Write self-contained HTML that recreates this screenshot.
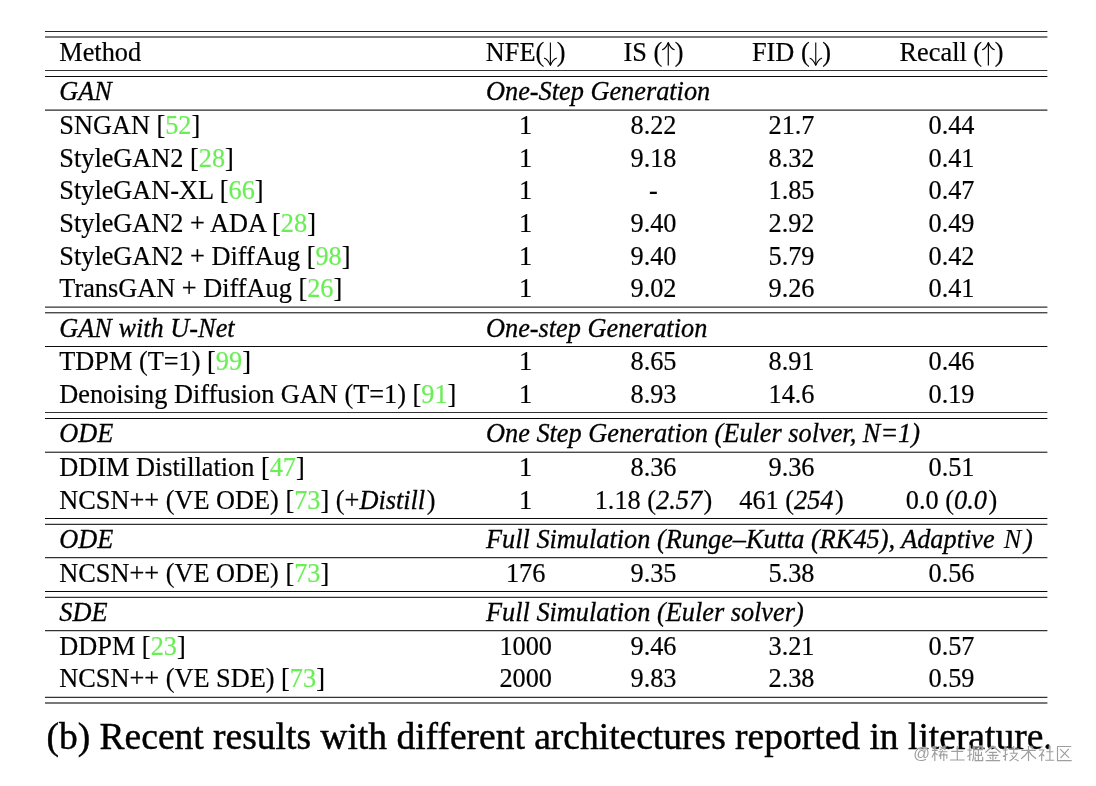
<!DOCTYPE html>
<html><head><meta charset="utf-8"><style>
html,body{margin:0;padding:0;background:#fff;}
body{width:1096px;height:786px;position:relative;overflow:hidden;font-family:"Liberation Serif",serif;color:#000;}
#w{position:absolute;left:0;top:0;width:1096px;height:786px;will-change:transform;}
.t{position:absolute;line-height:0;white-space:pre;font-size:26.3px;-webkit-text-stroke:0.2px currentColor;}
.t{transform:scaleY(1);transform-origin:0 8.88px;}
.t.c{transform:translateX(-50%) scaleY(1);}
.ar{vertical-align:baseline;margin:-18.3px 0 -6.7px 0;}
.g{color:rgb(106,238,86);}
i{font-style:italic;-webkit-text-stroke:0.3px currentColor;}
.ic{margin-right:1.5px;}
.mn{font-style:italic;margin:0 0.1em 0 0.1em;-webkit-text-stroke:0.1px #000;}
.cap{position:absolute;line-height:0;white-space:pre;font-size:37.5px;-webkit-text-stroke:0.45px #000;}
svg.ln{position:absolute;left:0;top:0;}
</style></head><body><div id="w">

<div class="t" style="left:59.3px;top:52.62px">Method</div>
<div class="t c" style="left:525.7px;top:52.62px">NFE(<svg class="ar" width="12.6" height="25" viewBox="0 0 12.6 25"><path d="M6.3 0.6V23" stroke="#000" stroke-width="1.1" fill="none"/><path d="M0.3 16.2Q3.8 17.2 6.3 23.4Q8.8 17.2 12.3 16.2" stroke="#000" stroke-width="1.15" fill="none" stroke-linecap="round" stroke-linejoin="round"/></svg>)</div>
<div class="t c" style="left:653.5px;top:52.62px">IS (<svg class="ar" width="12.6" height="25" viewBox="0 0 12.6 25"><path d="M6.3 1.0V23.6" stroke="#000" stroke-width="1.2" fill="none"/><path d="M0.3 7.7Q3.8 6.7 6.3 0.5Q8.8 6.7 12.3 7.7" stroke="#000" stroke-width="1.15" fill="none" stroke-linecap="round" stroke-linejoin="round"/></svg>)</div>
<div class="t c" style="left:791.5px;top:52.62px">FID (<svg class="ar" width="12.6" height="25" viewBox="0 0 12.6 25"><path d="M6.3 0.6V23" stroke="#000" stroke-width="1.1" fill="none"/><path d="M0.3 16.2Q3.8 17.2 6.3 23.4Q8.8 17.2 12.3 16.2" stroke="#000" stroke-width="1.15" fill="none" stroke-linecap="round" stroke-linejoin="round"/></svg>)</div>
<div class="t c" style="left:951.5px;top:52.62px">Recall (<svg class="ar" width="12.6" height="25" viewBox="0 0 12.6 25"><path d="M6.3 1.0V23.6" stroke="#000" stroke-width="1.2" fill="none"/><path d="M0.3 7.7Q3.8 6.7 6.3 0.5Q8.8 6.7 12.3 7.7" stroke="#000" stroke-width="1.15" fill="none" stroke-linecap="round" stroke-linejoin="round"/></svg>)</div>
<div class="t" style="left:59.3px;top:92.02px"><i>GAN</i></div>
<div class="t" style="left:486px;top:92.02px"><i>One-Step Generation</i></div>
<div class="t" style="left:59.3px;top:329.02px"><i>GAN with U-Net</i></div>
<div class="t" style="left:486px;top:329.02px"><i>One-step Generation</i></div>
<div class="t" style="left:59.3px;top:433.72px"><i>ODE</i></div>
<div class="t" style="left:486px;top:433.72px"><i>One Step Generation (Euler solver, N=1)</i></div>
<div class="t" style="left:59.3px;top:539.62px"><i>ODE</i></div>
<div class="t" style="left:486px;top:539.62px"><i>Full Simulation (Runge–Kutta (RK45), Adaptive <span class="mn">N</span>)</i></div>
<div class="t" style="left:59.3px;top:612.72px"><i>SDE</i></div>
<div class="t" style="left:486px;top:612.72px"><i>Full Simulation (Euler solver)</i></div>
<div class="t" style="left:59.3px;top:125.92px">SNGAN [<span class="g">52</span>]</div>
<div class="t c" style="left:525.7px;top:125.92px">1</div>
<div class="t c" style="left:653.5px;top:125.92px">8.22</div>
<div class="t c" style="left:791.5px;top:125.92px">21.7</div>
<div class="t c" style="left:951.5px;top:125.92px">0.44</div>
<div class="t" style="left:59.3px;top:159.02px">StyleGAN2 [<span class="g">28</span>]</div>
<div class="t c" style="left:525.7px;top:159.02px">1</div>
<div class="t c" style="left:653.5px;top:159.02px">9.18</div>
<div class="t c" style="left:791.5px;top:159.02px">8.32</div>
<div class="t c" style="left:951.5px;top:159.02px">0.41</div>
<div class="t" style="left:59.3px;top:190.92px">StyleGAN-XL [<span class="g">66</span>]</div>
<div class="t c" style="left:525.7px;top:190.92px">1</div>
<div class="t c" style="left:653.5px;top:190.92px">-</div>
<div class="t c" style="left:791.5px;top:190.92px">1.85</div>
<div class="t c" style="left:951.5px;top:190.92px">0.47</div>
<div class="t" style="left:59.3px;top:223.72px">StyleGAN2 + ADA [<span class="g">28</span>]</div>
<div class="t c" style="left:525.7px;top:223.72px">1</div>
<div class="t c" style="left:653.5px;top:223.72px">9.40</div>
<div class="t c" style="left:791.5px;top:223.72px">2.92</div>
<div class="t c" style="left:951.5px;top:223.72px">0.49</div>
<div class="t" style="left:59.3px;top:257.02px">StyleGAN2 + DiffAug [<span class="g">98</span>]</div>
<div class="t c" style="left:525.7px;top:257.02px">1</div>
<div class="t c" style="left:653.5px;top:257.02px">9.40</div>
<div class="t c" style="left:791.5px;top:257.02px">5.79</div>
<div class="t c" style="left:951.5px;top:257.02px">0.42</div>
<div class="t" style="left:59.3px;top:288.72px">TransGAN + DiffAug [<span class="g">26</span>]</div>
<div class="t c" style="left:525.7px;top:288.72px">1</div>
<div class="t c" style="left:653.5px;top:288.72px">9.02</div>
<div class="t c" style="left:791.5px;top:288.72px">9.26</div>
<div class="t c" style="left:951.5px;top:288.72px">0.41</div>
<div class="t" style="left:59.3px;top:361.82px">TDPM (T=1) [<span class="g">99</span>]</div>
<div class="t c" style="left:525.7px;top:361.82px">1</div>
<div class="t c" style="left:653.5px;top:361.82px">8.65</div>
<div class="t c" style="left:791.5px;top:361.82px">8.91</div>
<div class="t c" style="left:951.5px;top:361.82px">0.46</div>
<div class="t" style="left:59.3px;top:394.82px">Denoising Diffusion GAN (T=1) [<span class="g">91</span>]</div>
<div class="t c" style="left:525.7px;top:394.82px">1</div>
<div class="t c" style="left:653.5px;top:394.82px">8.93</div>
<div class="t c" style="left:791.5px;top:394.82px">14.6</div>
<div class="t c" style="left:951.5px;top:394.82px">0.19</div>
<div class="t" style="left:59.3px;top:468.02px">DDIM Distillation [<span class="g">47</span>]</div>
<div class="t c" style="left:525.7px;top:468.02px">1</div>
<div class="t c" style="left:653.5px;top:468.02px">8.36</div>
<div class="t c" style="left:791.5px;top:468.02px">9.36</div>
<div class="t c" style="left:951.5px;top:468.02px">0.51</div>
<div class="t" style="left:59.3px;top:500.52px">NCSN++ (VE ODE) [<span class="g">73</span>] (+<i class="ic">Distill</i>)</div>
<div class="t c" style="left:525.7px;top:500.52px">1</div>
<div class="t c" style="left:653.5px;top:500.52px">1.18 (<i class="ic">2.57</i>)</div>
<div class="t c" style="left:791.5px;top:500.52px">461 (<i class="ic">254</i>)</div>
<div class="t c" style="left:951.5px;top:500.52px">0.0 (<i class="ic">0.0</i>)</div>
<div class="t" style="left:59.3px;top:573.72px">NCSN++ (VE ODE) [<span class="g">73</span>]</div>
<div class="t c" style="left:525.7px;top:573.72px">176</div>
<div class="t c" style="left:653.5px;top:573.72px">9.35</div>
<div class="t c" style="left:791.5px;top:573.72px">5.38</div>
<div class="t c" style="left:951.5px;top:573.72px">0.56</div>
<div class="t" style="left:59.3px;top:647.02px">DDPM [<span class="g">23</span>]</div>
<div class="t c" style="left:525.7px;top:647.02px">1000</div>
<div class="t c" style="left:653.5px;top:647.02px">9.46</div>
<div class="t c" style="left:791.5px;top:647.02px">3.21</div>
<div class="t c" style="left:951.5px;top:647.02px">0.57</div>
<div class="t" style="left:59.3px;top:678.62px">NCSN++ (VE SDE) [<span class="g">73</span>]</div>
<div class="t c" style="left:525.7px;top:678.62px">2000</div>
<div class="t c" style="left:653.5px;top:678.62px">9.83</div>
<div class="t c" style="left:791.5px;top:678.62px">2.38</div>
<div class="t c" style="left:951.5px;top:678.62px">0.59</div>
<div class="cap" style="left:46.5px;top:736.94px">(b) Recent results with different architectures reported in literature.</div>
<svg class="ln" width="1096" height="786" viewBox="0 0 1096 786">
<rect x="45" y="31.075" width="1002.4" height="0.85" fill="#000"/>
<rect x="45" y="36.475" width="1002.4" height="1.05" fill="#000"/>
<rect x="45" y="70.100" width="1002.4" height="0.8" fill="#000"/>
<rect x="45" y="76.025" width="1002.4" height="0.95" fill="#000"/>
<rect x="45" y="109.575" width="1002.4" height="1.05" fill="#000"/>
<rect x="45" y="306.600" width="1002.4" height="1.0" fill="#000"/>
<rect x="45" y="312.300" width="1002.4" height="1.0" fill="#000"/>
<rect x="45" y="346.025" width="1002.4" height="0.95" fill="#000"/>
<rect x="45" y="412.100" width="1002.4" height="0.8" fill="#000"/>
<rect x="45" y="418.015" width="1002.4" height="0.97" fill="#000"/>
<rect x="45" y="451.700" width="1002.4" height="1.0" fill="#000"/>
<rect x="45" y="518.025" width="1002.4" height="0.95" fill="#000"/>
<rect x="45" y="523.800" width="1002.4" height="1.0" fill="#000"/>
<rect x="45" y="557.200" width="1002.4" height="1.0" fill="#000"/>
<rect x="45" y="591.015" width="1002.4" height="0.97" fill="#000"/>
<rect x="45" y="596.800" width="1002.4" height="1.0" fill="#000"/>
<rect x="45" y="630.200" width="1002.4" height="1.0" fill="#000"/>
<rect x="45" y="696.800" width="1002.4" height="1.0" fill="#000"/>
<rect x="45" y="702.475" width="1002.4" height="1.05" fill="#000"/>
</svg>
<svg class="ln" width="1096" height="786" viewBox="0 0 1096 786"><g fill="none" stroke="#fff" stroke-opacity="0.55" stroke-width="2.6" stroke-linecap="round" stroke-linejoin="round"><path transform="translate(931.50 745.6) scale(1 0.9625)" d="M5.2 0.6 L1 2.2 M0.4 5 H6.2 M3.3 1.6 V16 M3.3 6.5 L0.4 12.5 M3.6 7.5 L6 10 M8.2 0.8 L14 4.6 M14 0.8 L8.2 4.6 M7 6.4 H16 M11.2 4.8 L7.6 11.2 M9.2 9.6 H15.4 V13.6 M9.2 9.6 V14.2 M12.3 7.8 V16"/>
<path transform="translate(949.30 745.6) scale(1 0.9625)" d="M2 6 H14 M8 0.4 V15 M0.6 15 H15.4"/>
<path transform="translate(967.10 745.6) scale(1 0.9625)" d="M0.2 4.6 H5 M2.7 0.4 V15 L1.6 14.4 M0.2 11.4 L5 8.8 M6.6 1 H15.4 V4.2 H6.6 M6.6 1 V9 Q6.4 13.5 5.4 16 M11.3 4.4 V16 M8.6 6.4 V10.2 H14.4 V6.4 M8 11.6 V15.6 H15.6 V11.6"/>
<path transform="translate(984.90 745.6) scale(1 0.9625)" d="M8 0.4 L0.4 7.2 M8 0.4 L15.6 7.2 M4 7 H12 M2.4 10.2 H13.6 M8 7 V15.4 M4.8 11.6 L6 14 M11.4 11.6 L10.2 14 M0.8 15.6 H15.2"/>
<path transform="translate(1002.70 745.6) scale(1 0.9625)" d="M0.2 4.6 H5 M2.7 0.4 V15 L1.6 14.4 M0.2 11.4 L5 8.8 M6.6 4 H15.6 M11 0.4 V7.4 M7.2 8 H14.4 Q12 13.5 6.8 16 M8.8 10 Q11.5 14.5 16 16"/>
<path transform="translate(1020.50 745.6) scale(1 0.9625)" d="M0.8 5 H15.2 M8 0.4 V16 M7.6 6 Q5 10.5 0.6 13.6 M8.4 6 Q11 10.5 15.6 13.6 M10.6 1.4 L12 3"/>
<path transform="translate(1038.30 745.6) scale(1 0.9625)" d="M3 0.4 L4 2 M0.6 4.6 H5.6 Q4 8.5 0.6 11.4 M3.4 7.4 V16 M4 9 L6 11 M8 6.4 H15.2 M11.6 0.8 V15 M7 15.2 H16"/>
<path transform="translate(1056.10 745.6) scale(1 0.9625)" d="M1 1 H15.2 M1.4 1 V15.6 H15.6 M4 3.6 L13 12.8 M12.6 3.4 L4.4 13"/><text x="913.2" y="758.6" font-family="Liberation Sans" font-size="16.5" fill="#fff" stroke="#fff" stroke-width="1.2">@</text></g><g fill="none" stroke="#9e9e9e" stroke-width="1.15" stroke-linecap="butt" stroke-linejoin="miter"><path transform="translate(931.50 745.6) scale(1 0.9625)" d="M5.2 0.6 L1 2.2 M0.4 5 H6.2 M3.3 1.6 V16 M3.3 6.5 L0.4 12.5 M3.6 7.5 L6 10 M8.2 0.8 L14 4.6 M14 0.8 L8.2 4.6 M7 6.4 H16 M11.2 4.8 L7.6 11.2 M9.2 9.6 H15.4 V13.6 M9.2 9.6 V14.2 M12.3 7.8 V16"/>
<path transform="translate(949.30 745.6) scale(1 0.9625)" d="M2 6 H14 M8 0.4 V15 M0.6 15 H15.4"/>
<path transform="translate(967.10 745.6) scale(1 0.9625)" d="M0.2 4.6 H5 M2.7 0.4 V15 L1.6 14.4 M0.2 11.4 L5 8.8 M6.6 1 H15.4 V4.2 H6.6 M6.6 1 V9 Q6.4 13.5 5.4 16 M11.3 4.4 V16 M8.6 6.4 V10.2 H14.4 V6.4 M8 11.6 V15.6 H15.6 V11.6"/>
<path transform="translate(984.90 745.6) scale(1 0.9625)" d="M8 0.4 L0.4 7.2 M8 0.4 L15.6 7.2 M4 7 H12 M2.4 10.2 H13.6 M8 7 V15.4 M4.8 11.6 L6 14 M11.4 11.6 L10.2 14 M0.8 15.6 H15.2"/>
<path transform="translate(1002.70 745.6) scale(1 0.9625)" d="M0.2 4.6 H5 M2.7 0.4 V15 L1.6 14.4 M0.2 11.4 L5 8.8 M6.6 4 H15.6 M11 0.4 V7.4 M7.2 8 H14.4 Q12 13.5 6.8 16 M8.8 10 Q11.5 14.5 16 16"/>
<path transform="translate(1020.50 745.6) scale(1 0.9625)" d="M0.8 5 H15.2 M8 0.4 V16 M7.6 6 Q5 10.5 0.6 13.6 M8.4 6 Q11 10.5 15.6 13.6 M10.6 1.4 L12 3"/>
<path transform="translate(1038.30 745.6) scale(1 0.9625)" d="M3 0.4 L4 2 M0.6 4.6 H5.6 Q4 8.5 0.6 11.4 M3.4 7.4 V16 M4 9 L6 11 M8 6.4 H15.2 M11.6 0.8 V15 M7 15.2 H16"/>
<path transform="translate(1056.10 745.6) scale(1 0.9625)" d="M1 1 H15.2 M1.4 1 V15.6 H15.6 M4 3.6 L13 12.8 M12.6 3.4 L4.4 13"/></g><text x="913.2" y="758.6" font-family="Liberation Sans" font-size="16.5" fill="#9e9e9e">@</text></svg>
</div></body></html>
